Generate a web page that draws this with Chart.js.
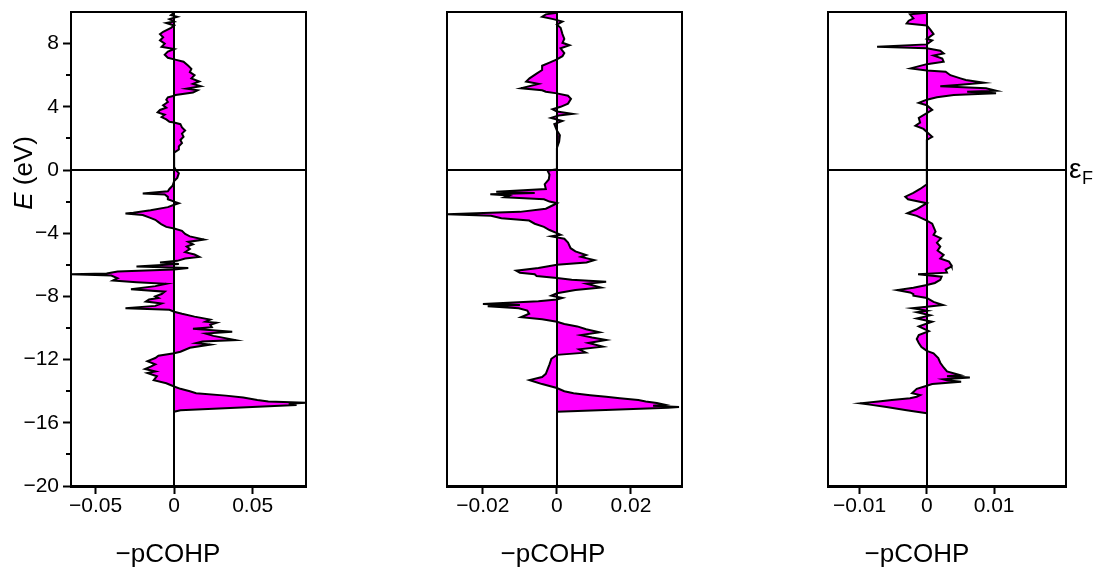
<!DOCTYPE html>
<html>
<head>
<meta charset="utf-8">
<script src="https://cdn.jsdelivr.net/npm/chart.js@4/dist/chart.umd.min.js"></script>
<style>
  html, body { margin: 0; padding: 0; background: #fff; }
  #wrap { position: relative; width: 1097px; height: 574px; overflow: hidden; }
  #wrap canvas { position: absolute; top: 0; }
</style>
</head>
<body>
<div id="wrap">
  <canvas id="cohp1" width="330" height="574" style="left:0px"></canvas>
  <canvas id="cohp2" width="290" height="574" style="left:420px"></canvas>
  <canvas id="cohp3" width="297" height="574" style="left:800px"></canvas>
</div>
<script>
// energies (eV) and -pCOHP values
const energy1 = [
  9.95, 9.8, 9.7, 9.55, 9.4, 9.3, 9.15, 9.0, 8.75, 8.6,
  8.4, 8.2, 8.0, 7.8, 7.65, 7.5, 7.3, 7.1, 7.0, 6.85,
  6.6, 6.4, 6.2, 6.0, 5.8, 5.6, 5.45, 5.3, 5.15, 5.05,
  4.9, 4.75, 4.7, 4.6, 4.45, 4.3, 4.1, 3.95, 3.8, 3.65,
  3.5, 3.35, 3.2, 3.05, 3.0, 2.9, 2.7, 2.5, 2.3, 2.1,
  1.9, 1.7, 1.5, 1.3, 1.1, 0.2, 0, -0.2, -0.5, -0.7,
  -1.0, -1.2, -1.35, -1.48, -1.55, -1.7, -1.85, -2.0, -2.1, -2.2,
  -2.35, -2.55, -2.7, -2.75, -2.85, -3.0, -3.15, -3.3, -3.45, -3.6,
  -3.7, -3.85, -4.05, -4.2, -4.4, -4.55, -4.7, -4.85, -5.0, -5.2,
  -5.35, -5.5, -5.6, -5.75, -5.85, -5.95, -6.1, -6.2, -6.3, -6.42,
  -6.55, -6.6, -6.68, -6.85, -7.0, -7.1, -7.2, -7.35, -7.55, -7.7,
  -7.85, -8.0, -8.1, -8.2, -8.33, -8.45, -8.6, -8.75, -8.85, -8.97,
  -9.1, -9.28, -9.47, -9.6, -9.67, -9.8, -9.95, -10.05, -10.23, -10.35,
  -10.5, -10.76, -10.85, -10.95, -11.05, -11.25, -11.5, -11.6, -11.75, -11.9,
  -12.1, -12.3, -12.45, -12.6, -12.75, -12.85, -13.05, -13.3, -13.5, -13.7,
  -13.85, -14.0, -14.13, -14.28, -14.4, -14.55, -14.65, -14.73, -14.8, -14.87,
  -15.2, -15.3
];
const cohp1 = [
  0, -0.002, 0.002, -0.003, 0, -0.005, 0, -0.002, -0.007, -0.009,
  -0.007, -0.009, -0.006, -0.008, 0, -0.004, -0.006, -0.004, 0, 0.006,
  0.009, 0.011, 0.010, 0.013, 0.011, 0.016, 0.012, 0.017, 0.008, 0.015,
  0.012, 0.001, 0, -0.004, -0.005, -0.004, -0.007, -0.005, -0.009, -0.0105,
  -0.006, -0.008, -0.005, -0.003, 0, 0.004, 0.005, 0.007, 0.005, 0.006,
  0.004, 0.005, 0.003, 0.003, 0, 0, 0.001, 0.003, 0.002, 0,
  -0.001, -0.003, -0.004, -0.020, -0.006, -0.004, -0.004, 0, 0.003, 0,
  -0.004, -0.015, -0.026, -0.031, -0.020, -0.016, -0.012, -0.010, -0.008, -0.005,
  0, 0.005, 0.007, 0.010, 0.019, 0.009, 0.012, 0.008, 0.010, 0.007,
  0.013, 0.016, 0.007, 0.002, -0.009, 0.003, -0.024, 0.009, 0, -0.036,
  -0.043, -0.066, -0.040, -0.036, -0.039, -0.024, -0.005, -0.012, -0.0275, -0.006,
  -0.008, -0.012, -0.010, -0.016, -0.018, -0.008, -0.012, -0.031, -0.003, 0,
  0.005, 0.013, 0.023, 0.020, 0.027, 0.023, 0.024, 0.012, 0.037, 0.020,
  0.025, 0.039, 0.018, 0.014, 0.023, 0.010, 0.004, 0, -0.010, -0.012,
  -0.017, -0.012, -0.015, -0.0185, -0.012, -0.017, -0.011, -0.013, -0.005, 0,
  0.004, 0.010, 0.014, 0.033, 0.044, 0.053, 0.060, 0.085, 0.073, 0.078,
  0.004, 0
];

const energy2 = [
  9.95, 9.85, 9.7, 9.55, 9.4, 9.2, 9.0, 8.6, 8.3, 8.05,
  7.9, 7.7, 7.4, 7.2, 7.0, 6.8, 6.6, 6.33, 6.1, 5.8,
  5.6, 5.45, 5.17, 5.05, 4.95, 4.85, 4.7, 4.5, 4.2, 4.0,
  3.85, 3.7, 3.55, 3.45, 3.3, 3.1, 2.9, 2.5, 2.2, 1.8,
  1.4, 0.05, -0.05, -0.3, -0.6, -0.9, -1.2, -1.37, -1.45, -1.54,
  -1.62, -1.73, -1.85, -2.0, -2.1, -2.2, -2.45, -2.65, -2.8, -2.9,
  -3.05, -3.2, -3.4, -3.6, -3.8, -4.0, -4.1, -4.2, -4.35, -4.6,
  -4.95, -5.15, -5.38, -5.5, -5.7, -5.85, -6.0, -6.2, -6.37, -6.5,
  -6.6, -6.71, -6.84, -6.95, -7.07, -7.2, -7.44, -7.6, -7.8, -7.95,
  -8.1, -8.2, -8.3, -8.48, -8.55, -8.63, -8.75, -8.9, -9.1, -9.32,
  -9.45, -9.6, -9.75, -9.9, -10.08, -10.27, -10.45, -10.6, -10.76, -10.95,
  -11.18, -11.35, -11.56, -11.7, -11.95, -12.3, -12.6, -12.9, -13.1, -13.3,
  -13.4, -13.55, -13.8, -14.0, -14.13, -14.25, -14.35, -14.45, -14.56, -14.65,
  -14.75, -14.85, -14.92, -15.0, -15.05, -15.3
];
const cohp2 = [
  0, -0.003, -0.004, -0.001, 0.0015, 0, 0.001, 0.0015, 0.002, 0.0015,
  0.0034, 0.001, 0.002, 0.0015, 0, -0.002, -0.004, -0.004, -0.0055, -0.0074,
  -0.0083, -0.005, -0.0097, -0.004, -0.003, 0, 0.003, 0.0038, 0.003, 0.001,
  -0.0012, 0, 0.0042, 0.0005, -0.0016, 0.0015, -0.0007, 0, 0.0008, 0.0006,
  0, 0, -0.0025, -0.002, -0.0022, -0.0033, -0.003, -0.0164, -0.006, -0.018,
  -0.013, -0.0142, -0.0035, -0.002, 0, -0.0008, -0.003, -0.010, -0.030, -0.0178,
  -0.015, -0.0075, -0.006, -0.0035, -0.002, 0, 0.001, -0.0015, 0.002, 0.003,
  0.0037, 0.005, 0.0079, 0.0065, 0.0101, 0.008, 0, -0.005, -0.011, -0.010,
  -0.006, -0.0055, 0, 0.004, 0.0133, 0.008, 0.0119, 0.005, 0, -0.0015,
  0.0015, 0, -0.005, -0.020, -0.010, -0.0187, -0.0103, -0.008, -0.0075, -0.0097,
  -0.004, 0, 0.002, 0.0055, 0.0079, 0.0115, 0.0065, 0.0095, 0.0133, 0.0085,
  0.0124, 0.006, 0.0078, 0, -0.0015, -0.002, -0.0025, -0.003, -0.004, -0.0074,
  -0.006, -0.004, 0, 0.002, 0.0045, 0.009, 0.0133, 0.017, 0.022, 0.024,
  0.027, 0.029, 0.026, 0.033, 0.030, 0
];

const energy3 = [
  9.95, 9.85, 9.6, 9.45, 9.28, 9.15, 8.9, 8.6, 8.3, 8.2,
  7.95, 7.8, 7.7, 7.55, 7.38, 7.25, 7.05, 6.85, 6.7, 6.43,
  6.3, 6.22, 6.0, 5.8, 5.7, 5.52, 5.4, 5.3, 5.17, 5.02,
  4.95, 4.85, 4.75, 4.6, 4.45, 4.25, 4.1, 3.8, 3.6, 3.3,
  3.0, 2.8, 2.6, 2.4, 2.1, 1.9, -0.9, -1.2, -1.45, -1.69,
  -1.85, -2.1, -2.3, -2.5, -2.74, -2.9, -3.2, -3.4, -3.6, -3.9,
  -4.1, -4.33, -4.6, -4.85, -5.1, -5.38, -5.6, -5.8, -6.0, -6.1,
  -6.3, -6.5, -6.6, -6.75, -6.95, -7.15, -7.28, -7.45, -7.6, -7.75,
  -7.85, -7.95, -8.1, -8.35, -8.54, -8.65, -8.75, -8.9, -9.0, -9.2,
  -9.4, -9.6, -9.9, -10.2, -10.45, -10.7, -10.95, -11.2, -11.45, -11.6,
  -11.9, -12.2, -12.5, -12.75, -12.97, -13.05, -13.14, -13.25, -13.3, -13.4,
  -13.55, -13.65, -13.85, -14.13, -14.25, -14.35, -14.45, -14.55, -14.65, -14.77,
  -14.85, -15.0, -15.2, -15.4
];
const cohp3 = [
  0, -0.0025, -0.002, -0.0027, -0.003, 0, 0.0005, 0.001, 0, 0.0008,
  0, -0.0074, 0, 0.002, 0.0025, 0.001, 0.0023, 0.0025, 0, -0.0024,
  0, 0.0028, 0.0035, 0.005, 0.0058, 0.0085, 0.005, 0.002, 0.0088, 0.0103,
  0.006, 0.0103, 0.004, 0.0015, 0, -0.0012, 0, 0.0008, 0, -0.0012,
  -0.001, -0.0017, -0.0005, 0, 0.0008, 0, 0, -0.001, -0.002, -0.0032,
  -0.0028, 0, -0.0008, -0.0016, -0.0029, -0.0015, 0, 0.0008, 0.001, 0.0013,
  0.001, 0.0021, 0.0015, 0.002, 0.0016, 0.0025, 0.002, 0.0033, 0.0036, 0.0037,
  0.0028, 0.003, -0.0013, 0.0022, 0.002, 0.0012, 0, -0.002, -0.0044, -0.0025,
  -0.002, -0.002, 0, 0.001, 0.0024, 0, -0.0022, 0, -0.0015, 0.0005,
  -0.0015, 0.0008, -0.0012, 0.0003, -0.0012, -0.0015, -0.0012, -0.0008, 0, 0.001,
  0.0017, 0.002, 0.0025, 0.003, 0.0049, 0.003, 0.0064, 0.0025, 0.003, 0.0051,
  0.0008, 0, -0.0015, -0.0022, -0.001, -0.0015, -0.0025, -0.0052, -0.0072, -0.0099,
  -0.0085, -0.006, -0.003, 0
];

// tick labels
const xTicks1 = [-0.05, 0, 0.05];
const xTicks2 = [-0.02, 0, 0.02];
const xTicks3 = [-0.01, 0, 0.01];
const energyLabels = [-20, -16, -12, -8, -4, 0, 4, 8];

const FONT = '"Liberation Sans", Arial, Helvetica, sans-serif';

function fmt(v) {
  if (v === 0) return '0';
  return (v < 0 ? '\u2212' : '') + String(Math.abs(v));
}

// frame, zero lines and free text on each panel
const panelDecor = {
  id: 'panelDecor',
  afterDatasetsDraw(chart, args, opts) {
    const {ctx, chartArea: a, scales: {x, y}} = chart;
    const x0 = Math.round(x.getPixelForValue(0));
    const y0 = Math.round(y.getPixelForValue(0));
    ctx.save();
    ctx.strokeStyle = '#000';
    ctx.lineWidth = 2;
    ctx.lineCap = 'square';
    ctx.beginPath();
    ctx.moveTo(x0, a.top);
    ctx.lineTo(x0, a.bottom);
    ctx.moveTo(a.left, y0);
    ctx.lineTo(a.right, y0);
    ctx.moveTo(a.left, a.top);
    ctx.lineTo(a.right, a.top);
    ctx.lineTo(a.right, a.bottom);
    if (opts.leftBorder) {
      ctx.moveTo(a.left, a.top);
      ctx.lineTo(a.left, a.bottom);
    }
    ctx.stroke();
    ctx.restore();
  },
  afterDraw(chart, args, opts) {
    const {ctx, chartArea: a, scales: {y}} = chart;
    ctx.save();
    ctx.fillStyle = '#000';

    // x title
    ctx.font = '26px ' + FONT;
    ctx.textAlign = 'center';
    ctx.textBaseline = 'alphabetic';
    ctx.fillText('\u2212pCOHP', opts.titleX, 562);

    if (opts.energyTitle) {
      // minor ticks on the energy axis
      ctx.strokeStyle = '#000';
      ctx.lineWidth = 2;
      ctx.beginPath();
      y.ticks.forEach(t => {
        if (energyLabels.indexOf(t.value) === -1 && t.value < y.max) {
          const py = Math.round(y.getPixelForValue(t.value));
          ctx.moveTo(a.left - 5, py);
          ctx.lineTo(a.left, py);
        }
      });
      ctx.stroke();

      // E (eV)
      ctx.translate(25, 173);
      ctx.rotate(-Math.PI / 2);
      ctx.textAlign = 'left';
      ctx.textBaseline = 'middle';
      ctx.font = 'italic 26px ' + FONT;
      const wE = ctx.measureText('E').width;
      ctx.font = '26px ' + FONT;
      const wRest = ctx.measureText(' (eV)').width;
      const start = -(wE + wRest) / 2;
      ctx.font = 'italic 26px ' + FONT;
      ctx.fillText('E', start, 0);
      ctx.font = '26px ' + FONT;
      ctx.fillText(' (eV)', start + wE, 0);
    }

    if (opts.fermi) {
      const py = y.getPixelForValue(0);
      ctx.textAlign = 'left';
      ctx.textBaseline = 'alphabetic';
      ctx.font = '28px ' + FONT;
      ctx.fillText('\u03b5', a.right + 3, py + 8);
      ctx.font = '18px ' + FONT;
      ctx.fillText('F', a.right + 16, py + 14);
    }
    ctx.restore();
  }
};

function makePanel(id, energy, cohp, xTicks, xMin, xMax, pad, decor, showEnergyAxis) {
  const points = energy.map((e, i) => ({x: cohp[i], y: e}));
  return new Chart(document.getElementById(id), {
    type: 'line',
    data: {
      datasets: [{
        data: points,
        fill: 'origin',
        backgroundColor: '#ff00ff',
        borderColor: '#000',
        borderWidth: 2,
        pointRadius: 0,
        tension: 0
      }]
    },
    options: {
      responsive: false,
      animation: false,
      indexAxis: 'y',
      layout: {padding: pad},
      plugins: {
        legend: {display: false},
        tooltip: {enabled: false},
        panelDecor: decor
      },
      scales: {
        x: {
          type: 'linear',
          position: 'bottom',
          min: xMin,
          max: xMax,
          afterBuildTicks: s => { s.ticks = xTicks.map(v => ({value: v})); },
          afterFit: s => { s.height = 88; s.paddingLeft = 0; s.paddingRight = 0; },
          grid: {drawOnChartArea: false, tickLength: 8, tickWidth: 2, tickColor: '#000'},
          border: {display: true, color: '#000', width: 3},
          ticks: {
            autoSkip: false,
            maxRotation: 0,
            padding: 0,
            color: '#000',
            font: {family: FONT, size: 21},
            callback: v => fmt(v)
          }
        },
        y: {
          type: 'linear',
          display: showEnergyAxis,
          min: -20,
          max: 10,
          afterFit: s => {
            if (showEnergyAxis) s.width = 71;
            s.paddingTop = 0;
            s.paddingBottom = 0;
          },
          grid: {
            drawOnChartArea: false,
            tickLength: 8,
            tickWidth: 2,
            tickColor: c => energyLabels.indexOf(c.tick.value) === -1 ? 'rgba(0,0,0,0)' : '#000'
          },
          border: {display: true, color: '#000', width: 2},
          ticks: {
            stepSize: 2,
            padding: 4,
            color: '#000',
            font: {family: FONT, size: 21},
            callback: v => energyLabels.indexOf(v) === -1 ? '' : fmt(v)
          }
        }
      }
    },
    plugins: [panelDecor]
  });
}

makePanel('cohp1', energy1, cohp1, xTicks1, -0.0657, 0.0840,
  {left: 0, top: 12, right: 24, bottom: 0},
  {titleX: 168, energyTitle: true}, true);
makePanel('cohp2', energy2, cohp2, xTicks2, -0.0297, 0.0338,
  {left: 27, top: 12, right: 28, bottom: 0},
  {titleX: 133, leftBorder: true}, false);
makePanel('cohp3', energy3, cohp3, xTicks3, -0.0147, 0.0207,
  {left: 28, top: 12, right: 31, bottom: 0},
  {titleX: 117, leftBorder: true, fermi: true}, false);
</script>
</body>
</html>
